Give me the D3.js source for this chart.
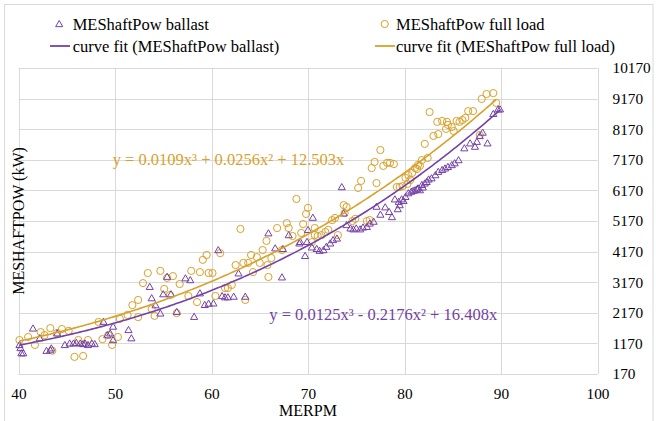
<!DOCTYPE html>
<html>
<head>
<meta charset="utf-8">
<script src="https://cdn.jsdelivr.net/npm/d3@7"></script>
<style>
  html, body { margin: 0; padding: 0; background: #fff; }
  svg { display: block; }
  text { font-family: "Liberation Serif", "Times New Roman", serif; }
</style>
</head>
<body>
<svg id="chart" width="656" height="421"></svg>
<script>
// Main engine shaft power against engine speed, ballast and full load conditions

// Ballast condition samples
const ballastRpm = [40.1, 40.2, 40.3, 40.5, 41.5, 42.2, 42.9, 43.3, 43.4, 44.0, 44.8, 45.3, 45.7, 46.0, 46.4, 46.7, 46.9, 47.2, 47.6, 47.9,
  48.8, 49.2, 49.5, 49.8, 49.8, 51.4, 51.7, 53.6, 53.8, 54.2, 54.7, 55.0, 55.4, 55.8, 56.4, 57.3, 57.8, 58.2, 58.8, 59.3,
  59.7, 60.2, 60.7, 61.1, 61.4, 61.7, 62.3, 62.8, 63.5, 65.9, 66.6, 67.3, 67.4, 68.0, 69.1, 69.2, 69.7, 69.9, 70.0, 70.4,
  70.5, 70.9, 71.2, 71.6, 71.9, 72.3, 72.6, 73.0, 73.5, 73.7, 74.0, 74.4, 74.7, 75.0, 75.4, 75.7, 76.1, 76.4, 76.8, 77.1,
  77.5, 78.0, 78.4, 78.7, 79.0, 79.3, 79.4, 79.5, 79.7, 79.9, 80.1, 80.4, 80.7, 80.9, 81.1, 81.3, 81.4, 81.6, 81.8, 81.9,
  82.1, 82.3, 82.5, 82.8, 83.2, 83.5, 83.9, 84.2, 84.5, 84.9, 85.2, 85.6, 86.2, 86.8, 87.3, 87.5, 87.8, 88.1, 88.6, 89.2,
  89.7, 89.9];
const ballastPow = [1120, 1020, 850, 850, 1660, 1340, 930, 950, 1010, 1500, 1120, 1170, 1170, 1190, 1170, 1150, 1170, 1120, 1170, 1150,
  1880, 1440, 1500, 1720, 1280, 1610, 1340, 3020, 2650, 2420, 2150, 2780, 3350, 2780, 2200, 3300, 3240, 2040, 2810, 2430,
  2470, 2480, 4220, 2720, 2680, 2680, 2700, 3460, 2700, 4770, 4280, 3330, 4260, 4710, 4440, 4490, 4030, 4490, 4880, 4310,
  5280, 4260, 4200, 4220, 4330, 4440, 4550, 4600, 6280, 5420, 5040, 4930, 4900, 4930, 4900, 4960, 4980, 5090, 5150, 5640,
  5380, 5620, 5470, 5300, 5880, 5560, 5800, 5690, 5880, 5830, 5960, 6080, 6130, 6160, 6180, 6210, 6240, 6180, 6350, 6270,
  6400, 6450, 6530, 6570, 6670, 6780, 6840, 6890, 6940, 7000, 7060, 7160, 7550, 7710, 7600, 7760, 7950, 8060, 7710, 8670,
  8820, 8820];

// Full load condition samples
const fullRpm = [40.1, 41.0, 41.7, 42.3, 42.7, 43.3, 43.5, 44.0, 44.5, 45.2, 45.8, 46.2, 46.7, 47.2, 48.3, 48.7, 49.3, 49.7, 50.3, 50.5,
  51.3, 51.8, 52.4, 52.4, 52.9, 53.4, 53.8, 54.1, 54.7, 55.1, 55.4, 55.7, 56.0, 56.4, 56.7, 57.6, 57.9, 58.5, 58.8, 59.1,
  59.5, 59.7, 60.1, 60.4, 60.9, 61.4, 61.7, 62.1, 62.5, 63.0, 63.3, 63.5, 63.8, 64.1, 64.3, 64.7, 65.0, 65.3, 65.7, 65.8,
  65.9, 66.2, 66.8, 67.3, 67.8, 68.0, 68.4, 68.8, 69.3, 69.5, 69.8, 70.0, 70.4, 70.7, 70.7, 71.0, 71.4, 71.8, 72.1, 72.5,
  72.8, 73.1, 73.7, 73.8, 74.0, 74.6, 74.9, 75.2, 75.5, 76.1, 76.4, 76.6, 76.9, 77.1, 77.5, 77.8, 78.2, 78.5, 78.9, 79.2,
  79.5, 79.8, 80.1, 80.3, 80.4, 80.6, 80.8, 81.1, 81.3, 81.4, 81.6, 81.8, 82.1, 82.4, 82.6, 83.0, 83.4, 83.5, 83.9, 84.3,
  84.4, 84.5, 84.9, 85.1, 85.4, 85.7, 86.0, 86.3, 86.6, 87.1, 87.8, 88.0, 88.5, 89.2, 89.5];
const fullPow = [1280, 1380, 1120, 1540, 1440, 1670, 930, 1510, 1640, 1580, 730, 1280, 760, 1280, 1870, 1310, 1440, 1120, 1380, 1970,
  2100, 2420, 2590, 2030, 3140, 3470, 2290, 2070, 3540, 2950, 3310, 2750, 3370, 2160, 3110, 2720, 3540, 2520, 3500, 3900,
  4060, 3470, 3470, 2720, 4120, 2980, 2980, 3080, 3730, 4910, 3800, 2590, 3800, 4060, 3500, 3990, 3800, 4220, 4520, 3730,
  3340, 3960, 4940, 4220, 5100, 4940, 4680, 5890, 4780, 5070, 5400, 5600, 4480, 4940, 4710, 4680, 4710, 4810, 4880, 5200,
  5270, 4710, 5690, 5430, 5630, 5170, 5240, 6250, 6480, 5170, 5200, 6900, 7100, 6410, 7490, 6970, 7070, 7070, 7030, 6280,
  6280, 6310, 6580, 6380, 6670, 6510, 6740, 6900, 6870, 7000, 6970, 7160, 7690, 7230, 8730, 7950, 8410, 8010, 8440, 8180,
  8410, 8310, 8240, 8110, 8440, 8410, 8470, 8540, 8760, 8760, 7980, 9160, 9320, 9350, 9030];

// Cubic trendline coefficients (x³, x², x), zero intercept
const ballastFit = [0.0125, -0.2176, 16.408];
const fullFit = [0.0109, 0.0256, 12.503];

// Axis ticks
const xTicks = [40, 50, 60, 70, 80, 90, 100];
const yTicks = [170, 1170, 2170, 3170, 4170, 5170, 6170, 7170, 8170, 9170, 10170];

const seriesNames = ["MEShaftPow ballast", "MEShaftPow full load"];
const fitNames = ["curve fit (MEShaftPow ballast)", "curve fit (MEShaftPow full load)"];

const purple = "#7442a6";
const gold = "#d9a12a";
const gridColor = "#d9d9d9";

const svg = d3.select("#chart");
const W = 656, H = 421;
const plot = { left: 18.5, right: 597.5, top: 68, bottom: 374 };

const x = d3.scaleLinear().domain([40, 100]).range([plot.left, plot.right]);
const y = d3.scaleLinear().domain([170, 10170]).range([plot.bottom, plot.top]);

// Chart frame
svg.append("rect").attr("x", 0).attr("y", 0).attr("width", W).attr("height", H).attr("fill", "#fff");
svg.append("rect").attr("x", 4.5).attr("y", 4.5).attr("width", 648.5).attr("height", H + 10)
  .attr("fill", "none").attr("stroke", gridColor).attr("stroke-width", 1);

// Gridlines
const grid = svg.append("g");
grid.selectAll("line.v").data(xTicks).join("line")
  .attr("x1", d => Math.round(x(d)) + 0.5).attr("x2", d => Math.round(x(d)) + 0.5)
  .attr("y1", plot.top).attr("y2", plot.bottom)
  .attr("stroke", gridColor).attr("stroke-width", 1);
grid.selectAll("line.h").data(yTicks).join("line")
  .attr("x1", plot.left).attr("x2", plot.right)
  .attr("y1", d => Math.round(y(d)) + 0.5).attr("y2", d => Math.round(y(d)) + 0.5)
  .attr("stroke", gridColor).attr("stroke-width", 1);

// Axes (labels only, no domain or tick marks)
const xAxis = svg.append("g").attr("transform", `translate(0,${plot.bottom})`)
  .call(d3.axisBottom(x).tickValues(xTicks).tickSize(0).tickPadding(14).tickFormat(d3.format("d")));
xAxis.select(".domain").remove();
xAxis.selectAll("text").attr("font-size", 15.3).attr("fill", "#000")
  .attr("font-family", "Liberation Serif, serif");

const yAxis = svg.append("g").attr("transform", `translate(${plot.left + (plot.right - plot.left)},0)`)
  .call(d3.axisRight(y).tickValues(yTicks).tickSize(0).tickPadding(15).tickFormat(d3.format("d")));
yAxis.select(".domain").remove();
yAxis.selectAll("text").attr("font-size", 15.3).attr("fill", "#000")
  .attr("font-family", "Liberation Serif, serif");

// Axis titles
svg.append("text").attr("x", (plot.left + plot.right) / 2).attr("y", 416)
  .attr("text-anchor", "middle").attr("font-size", 16).attr("fill", "#000").text("MERPM");
svg.append("text").attr("transform", `translate(24,${(plot.top + plot.bottom) / 2}) rotate(-90)`)
  .attr("text-anchor", "middle").attr("font-size", 16).attr("fill", "#000").text("MESHAFTPOW (kW)");

// Trendlines
const cubic = c => v => c[0] * v * v * v + c[1] * v * v + c[2] * v;
function fitPoints(rpm, c) {
  const [lo, hi] = d3.extent(rpm);
  const f = cubic(c);
  const xs = d3.range(lo, hi, 0.25).concat([hi]);
  return xs.map(v => [v, f(v)]);
}
const line = d3.line().x(d => x(d[0])).y(d => y(d[1]));

// Markers
const triangle = d3.symbol().type(d3.symbolTriangle).size(22);
const ballastData = ballastRpm.map((r, i) => [r, ballastPow[i]]);
const fullData = fullRpm.map((r, i) => [r, fullPow[i]]);

svg.append("g").selectAll("circle").data(fullData).join("circle")
  .attr("cx", d => x(d[0])).attr("cy", d => y(d[1])).attr("r", 3.6)
  .attr("fill", "none").attr("stroke", gold).attr("stroke-width", 1);

svg.append("g").selectAll("path").data(ballastData).join("path")
  .attr("d", triangle).attr("transform", d => `translate(${x(d[0])},${y(d[1]) + 0.6})`)
  .attr("fill", "none").attr("stroke", purple).attr("stroke-width", 1);

svg.append("path").datum(fitPoints(fullRpm, fullFit)).attr("d", line)
  .attr("fill", "none").attr("stroke", gold).attr("stroke-width", 1.6);
svg.append("path").datum(fitPoints(ballastRpm, ballastFit)).attr("d", line)
  .attr("fill", "none").attr("stroke", purple).attr("stroke-width", 1.6);

// Trendline equations built from the coefficients
function term(v, first) {
  const s = v < 0 ? " - " : (first ? "" : " + ");
  return s + Math.abs(v);
}
function equation(c) {
  return "y = " + term(c[0], true) + "x³" + term(c[1]) + "x²" + term(c[2]) + "x";
}
svg.append("text").attr("x", 112.7).attr("y", 165).attr("font-size", 16.5).attr("fill", gold)
  .text(equation(fullFit));
svg.append("text").attr("x", 269.3).attr("y", 320).attr("font-size", 16.5).attr("fill", purple)
  .text(equation(ballastFit));

// Legend
const legend = svg.append("g");
const row1 = 24, row2 = 46;
legend.append("path").attr("d", triangle).attr("transform", `translate(59.2,${row1 + 0.6})`)
  .attr("fill", "none").attr("stroke", purple).attr("stroke-width", 1);
legend.append("text").attr("x", 72.7).attr("y", row1 + 5.5).attr("font-size", 16.5).attr("fill", "#000").text(seriesNames[0]);
legend.append("circle").attr("cx", 384.7).attr("cy", row1).attr("r", 3.6)
  .attr("fill", "none").attr("stroke", gold).attr("stroke-width", 1);
legend.append("text").attr("x", 396).attr("y", row1 + 5.5).attr("font-size", 16.5).attr("fill", "#000").text(seriesNames[1]);
legend.append("line").attr("x1", 50).attr("x2", 70).attr("y1", row2).attr("y2", row2)
  .attr("stroke", purple).attr("stroke-width", 1.8);
legend.append("text").attr("x", 72.7).attr("y", row2 + 5.5).attr("font-size", 16.5).attr("fill", "#000").text(fitNames[0]);
legend.append("line").attr("x1", 375).attr("x2", 395).attr("y1", row2).attr("y2", row2)
  .attr("stroke", gold).attr("stroke-width", 1.8);
legend.append("text").attr("x", 396).attr("y", row2 + 5.5).attr("font-size", 16.5).attr("fill", "#000").text(fitNames[1]);
</script>
</body>
</html>
